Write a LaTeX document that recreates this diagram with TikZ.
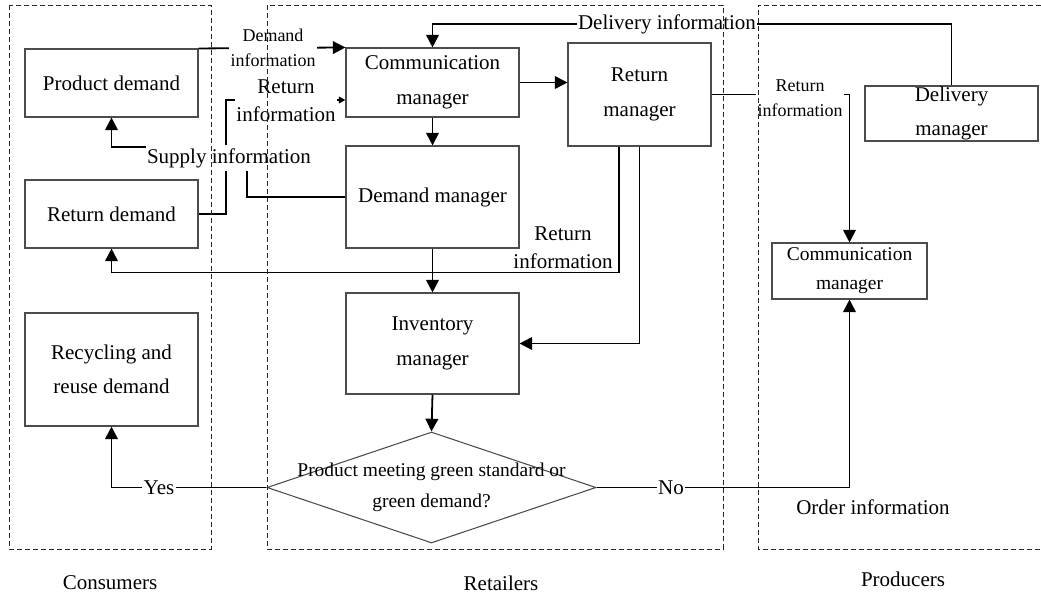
\documentclass[tikz,border=0pt]{standalone}
\usepackage{fontspec}
\setmainfont{Liberation Serif}
\usetikzlibrary{arrows.meta,shapes.geometric}

% font sizes (size / baseline skip)
\newcommand{\fbig}{\fontsize{15.75pt}{25.9pt}\selectfont}
\newcommand{\fret}{\fontsize{15.75pt}{21pt}\selectfont}
\newcommand{\fsmall}{\fontsize{13.5pt}{19pt}\selectfont}
\newcommand{\fmid}{\fontsize{14.6pt}{21.75pt}\selectfont}
\newcommand{\fdia}{\fontsize{14.6pt}{23.25pt}\selectfont}

\begin{document}
\begin{tikzpicture}[x=0.75pt,y=-0.75pt,
  box/.style={draw=black!70, line width=0.8pt, rectangle, inner sep=0pt, align=center, font=\fbig},
  wire/.style={line width=1.35pt},
  conn/.style={wire, -{Triangle[length=9.5pt,width=9.5pt]}},
  sconn/.style={wire, -{Triangle[length=5pt,width=5pt]}},
  lab/.style={fill=white, inner sep=1pt, align=center, font=\fbig},
  region/.style={draw=black!85, line width=0.6pt, dash pattern=on 3.5pt off 2.5pt}
]
\useasboundingbox (0,0) rectangle (1041,596);

% consumers
\node[box, minimum width=129.75pt, minimum height=51pt] (pd) at (111.5,83) {Product demand};
\node[box, minimum width=129.75pt, minimum height=51pt] (rd) at (111.5,214) {Return demand};
\node[box, minimum width=129.75pt, minimum height=84.75pt] (rr) at (111.5,369.5) {Recycling and\\reuse demand};

% retailers
\node[box, minimum width=129.75pt, minimum height=51.75pt] (cm) at (432.5,82.5) {Communication\\manager};
\node[box, minimum width=129.75pt, minimum height=76.5pt] (dm) at (432.5,197) {Demand manager};
\node[box, minimum width=129.75pt, minimum height=75.75pt] (im) at (432.5,343.5) {Inventory\\manager};
\node[box, minimum width=107.25pt, minimum height=77.25pt] (rm) at (639.5,94.5) {Return\\manager};
\node[diamond, draw=black!70, line width=0.8pt, inner sep=0pt, minimum width=246.75pt, minimum height=83.25pt] (dia) at (431.5,487.5) {};
\node[font=\fdia, align=center] (diatext) at (dia.center) {Product meeting green standard or\\green demand?};

% producers
\node[box, minimum width=129.75pt, minimum height=41.25pt] (dl) at (951.5,113.5) {Delivery\\manager};
\node[box, font=\fmid, minimum width=116.25pt, minimum height=42pt] (pc) at (849.5,271) {Communication\\manager};

% bend points
\coordinate (rbend) at (226,100);
\coordinate (sbend) at (247,147);
\coordinate (dtop) at (432.5,24);
\coordinate (rmA) at ([xshift=-15.375pt]rm.south);

% connectors
\draw[conn] (pd.north east) -- (cm.north west);
\draw[sconn] (rd.east) -| (rbend) -- (rbend -| cm.west);
\draw[conn] (dm.west) -| (sbend) -| (pd.south);
\draw[conn] (cm.south) -- (dm.north);
\draw[conn] (cm.east) -- (cm.east -| rm.west);
\draw[conn] (dl.north) |- (dtop) -- (cm.north);
\draw[conn] (rm.east) -| (pc.north);
\draw[conn] (rmA) -- ++(0,126) -| (rd.south);
\draw[conn] (rm.south) |- (im.east);
\draw[conn] (dm.south) -- (im.north);
\draw[conn] (im.south) -- (dia.north);
\draw[conn] (dia.west) -| (rr.south);
\draw[conn] (dia.east) -| (pc.south);

% connector labels
\node[lab, font=\fsmall] (ldem) at (273,48) {Demand\\information};
\node[lab, font=\fret] (lret1) at (286,101) {Return\\information};
\node[lab, minimum height=19pt] (lsup) at (229,158) {Supply information};
\node[lab] (ldel) at (667,24) {Delivery information};
\node[lab, font=\fsmall] (lret2) at (800,98) {Return\\information};
\node[align=center, font=\fret] (lret3) at (563,248) {Return\\information};
\node[lab] (lyes) at (159,488) {Yes};
\node[lab] (lno) at (671,488) {No};
\node[font=\fbig] (lord) at (873,507) {Order information};

% regions
\draw[region] (9,5) rectangle (211,549);
\draw[region] (267,5) rectangle (723,549);
\draw[region] (1041,5) -| (758,549) -- (1041,549);

\node[font=\fbig] (tcons) at (110,583) {Consumers};
\node[font=\fbig] (tret) at (501,583) {Retailers};
\node[font=\fbig] (tprod) at (903,579) {Producers};
\end{tikzpicture}
\end{document}
